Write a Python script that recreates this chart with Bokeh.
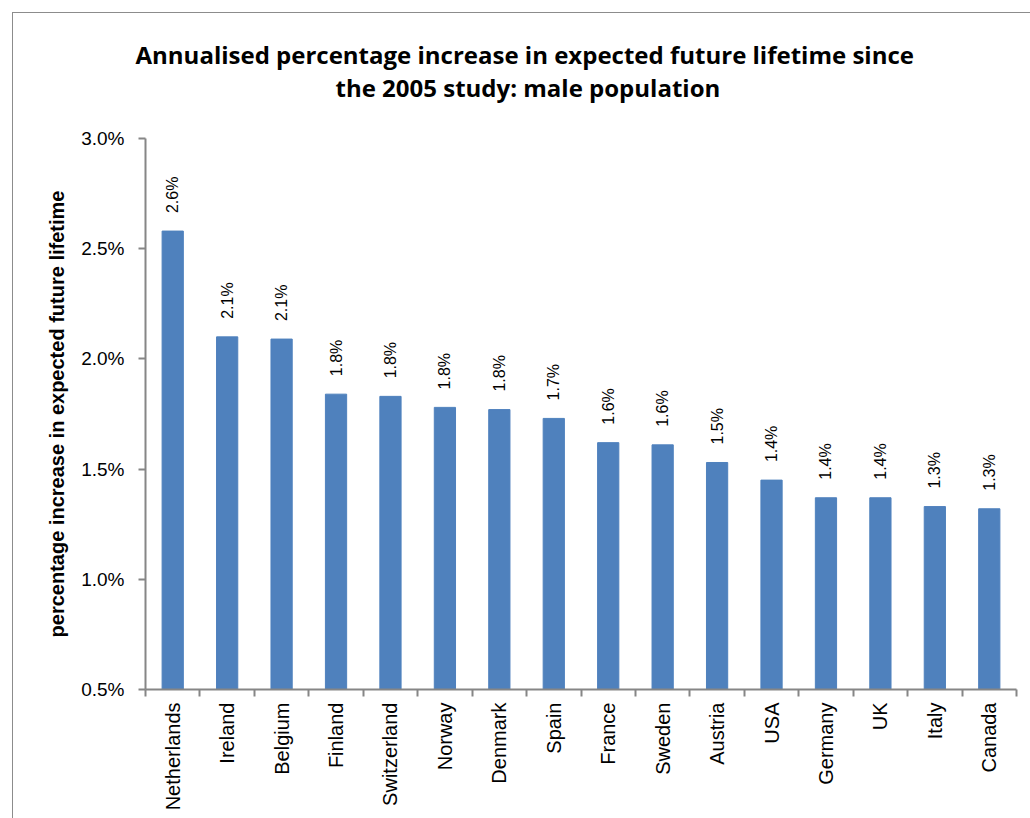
from bokeh.plotting import figure
from bokeh.models import (ColumnDataSource, FixedTicker, PrintfTickFormatter,
                          Range1d, Title)
from bokeh.embed import file_html
from bokeh.resources import INLINE

# ---- data ----
countries = ["Netherlands", "Ireland", "Belgium", "Finland", "Switzerland",
             "Norway", "Denmark", "Spain", "France", "Sweden", "Austria",
             "USA", "Germany", "UK", "Italy", "Canada"]
increase_pct = [2.58, 2.10, 2.09, 1.84, 1.83, 1.78, 1.77, 1.73, 1.62, 1.61,
                1.53, 1.45, 1.37, 1.37, 1.33, 1.32]
y_ticks = [0.5, 1.0, 1.5, 2.0, 2.5, 3.0]

title_line1 = "Annualised percentage increase in expected future lifetime since"
title_line2 = "the 2005 study: male population"
y_label = "percentage increase in expected future lifetime"

positions = list(range(1, len(countries) + 1))
labels = [f"{v:.1f}%" for v in increase_pct]
src = ColumnDataSource(dict(x=positions, top=increase_pct, lab=labels,
                            name=countries))

p = figure(width=1018, height=806, output_backend="svg", toolbar_location=None,
           x_range=Range1d(0.5, len(countries) + 0.5),
           y_range=Range1d(y_ticks[0], y_ticks[-1]),
           min_border_left=132, min_border_right=15, min_border_top=125,
           min_border_bottom=130)
p.margin = (12, 0, 0, 12)
p.styles = {"border-top": "1px solid #8c8c8c", "border-left": "1px solid #8c8c8c"}

p.vbar(x="x", top="top", bottom=y_ticks[0], width=0.39, source=src,
       fill_color="#4F81BD", line_color="#4F81BD")
p.text(x="x", y="top", text="lab", source=src, angle=1.5708,
       text_align="left", text_baseline="middle", y_offset=-18,
       text_font_size="16px", text_color="#000000",
       text_font={"value": "Liberation Sans"})

# titles (first added is closest to the frame); a tiny blank spacer first
spacer = Title(text=" ", text_font_size="1px", standoff=33)
t2 = Title(text=title_line2, align="left", text_font="Open Sans",
           text_font_size="24px", text_font_style="bold", offset=190,
           standoff=-2, text_color="#000000")
t1 = Title(text=title_line1, align="left", text_font="Open Sans",
           text_font_size="24px", text_font_style="bold", offset=-10,
           standoff=-2, text_color="#000000")
p.title = None
p.add_layout(spacer, "above")
p.add_layout(t2, "above")
p.add_layout(t1, "above")

p.xgrid.visible = False
p.ygrid.visible = False
p.outline_line_color = None

ax = p.xaxis[0]
ax.ticker = FixedTicker(ticks=positions,
                        minor_ticks=[i + 0.5 for i in range(len(countries) + 1)])
ax.major_label_overrides = {i: c for i, c in zip(positions, countries)}
ax.major_label_orientation = 1.5708
ax.major_tick_out = 0
ax.major_tick_in = 0
ax.minor_tick_out = 7
ax.minor_tick_in = 0
ax.major_label_standoff = 6
ax.axis_line_color = "#868686"
ax.axis_line_width = 2
ax.minor_tick_line_color = "#868686"
ax.minor_tick_line_width = 2
ax.major_label_text_font = "Liberation Sans"
ax.major_label_text_font_size = "20px"
ax.major_label_text_color = "#000000"

ay = p.yaxis[0]
ay.ticker = FixedTicker(ticks=y_ticks, minor_ticks=[])
ay.formatter = PrintfTickFormatter(format="%.1f%%")
ay.major_tick_out = 7
ay.major_tick_in = 0
ay.major_label_standoff = 14
ay.axis_line_color = "#868686"
ay.axis_line_width = 2
ay.major_tick_line_color = "#868686"
ay.major_tick_line_width = 2
ay.major_label_text_font = "Liberation Sans"
ay.major_label_text_font_size = "19px"
ay.major_label_text_color = "#000000"
ay.axis_label = y_label
ay.axis_label_text_font = "Liberation Sans"
ay.axis_label_text_font_size = "20px"
ay.axis_label_text_font_style = "bold"
ay.axis_label_text_color = "#000000"
ay.axis_label_standoff = 10

open("out.html", "w").write(file_html(p, INLINE))
